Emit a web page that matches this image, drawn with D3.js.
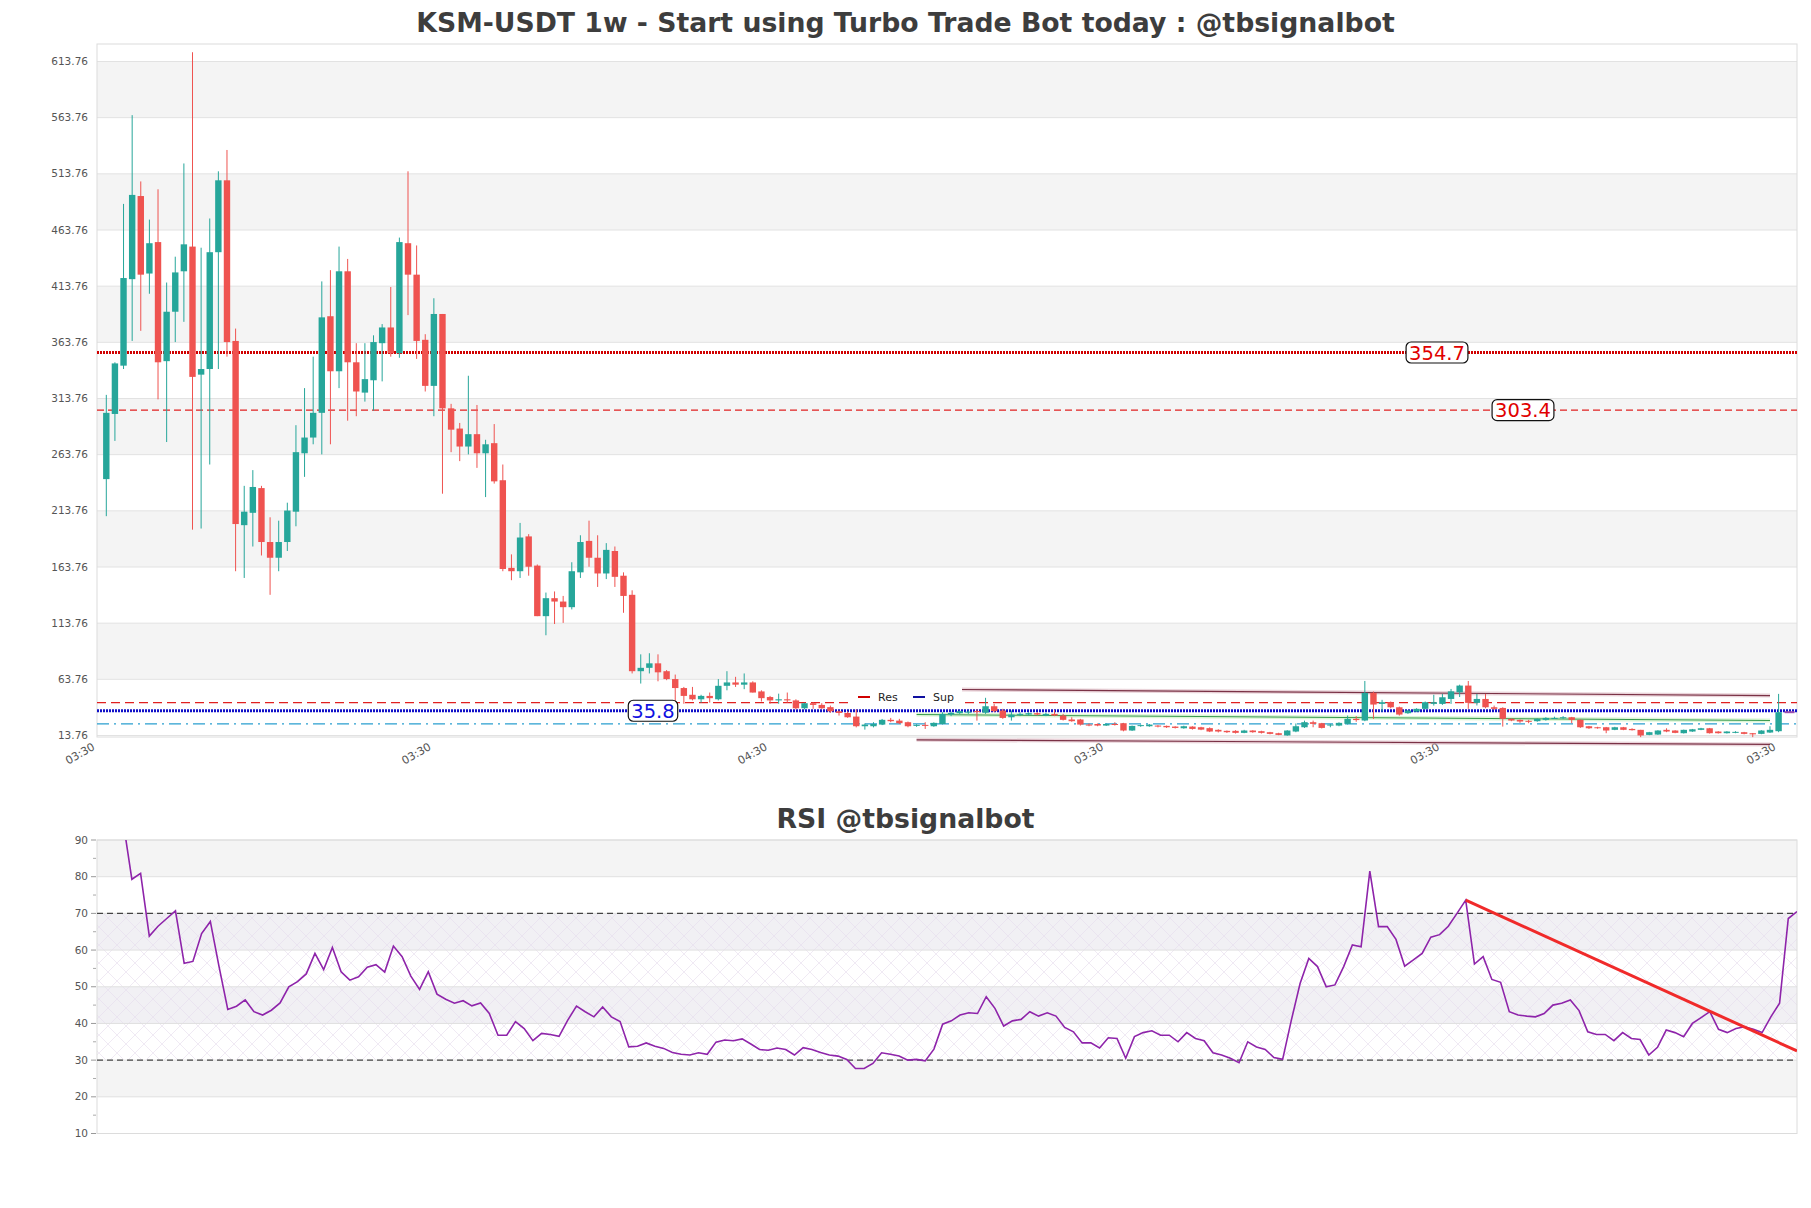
<!DOCTYPE html>
<html>
<head>
<meta charset="utf-8">
<script src="https://cdn.jsdelivr.net/npm/d3@7.9.0/dist/d3.min.js"></script>
<style>
  body { margin: 0; background: #fff; }
  svg text { font-family: "DejaVu Sans", sans-serif; }
</style>
</head>
<body>
<svg id="chart" width="1811" height="1208"></svg>
<script>
// weekly candles
const opens = [242,300,343,420,494,425,453,347,391,427,449,335,340,444,508,365,201,212,234,186,
  172,186,213,265,279,301,387,338,427,346,319,330,363,377,354,452,424,366,325,389,
  305,287,271,282,265,274,241,163,160,191,165,120,136,133,128,159,187,172,158,178,
  156,139,71,74,78,71,64,56,50,46,49,46,58,61,59,61,53,48,45,46,
  45,38,42.5,41,39,35.3,33.8,30.6,22,22,23.5,27.7,27,25.6,22.6,23.2,22,24,32.4,33.6,
  34.5,35.5,34,39.8,36,30,32.4,32.4,33.6,31.5,33,31.5,28,28,23.5,24,22.6,24,24.7,18.2,
  22.3,22,22.6,22.3,21.7,20.2,21.7,21.1,20.3,18.8,17.9,17.9,16.1,18.2,17.6,16.7,15.8,13.8,17.3,21.1,
  25.6,24.7,23,22.6,24.1,28.6,27.1,51.7,41.9,43.4,38.9,33.6,35.1,37.5,41.9,41.9,46.3,52.2,58.2,42.8,
  46.3,38.9,38.3,28.6,27.7,26.8,26.5,27.7,28.9,29.4,30,27.7,22,21.1,21.1,18.8,21.1,19.6,18.8,14.3,
  14.6,18.8,18.2,15.8,17.3,18.8,20.2,17.3,15.8,16.7,16.7,15.8,15.2,16.4,17.6];
const highs = [317,346,487,566,507,473,500,417,440,523,622,448,474,516,535,376,236,250,236,208,
  205,221,290,323,351,418,428,449,438,363,363,370,380,413,457,516,450,371,403,389,
  309,292,334,308,277,291,255,175,203,193,166,141,142,138,168,192,205,192,185,182,
  159,143,86,87,86,72,68,57,57,50,52,64,71,66,69,62,54,49,51,52,
  46,43,43.4,42.5,40.4,36,35.3,37,24.5,25.6,28.5,29.4,28.6,26.2,23.8,25.6,25.5,34.5,35,36,
  36,37,47.3,41.9,37.5,36,34.5,34.5,34.5,34,36.6,33,30,28.6,24.5,24.5,24.5,25.6,25,22.6,
  23.5,24,23,22.6,22,22.5,22,21.5,21,19.3,18.2,18.5,18.8,18.5,18,17,16.2,18.5,24.5,27,
  27,25,24.1,25.5,31.5,31,62.3,52.9,45.5,44,39.5,36.5,38,44,50,50.8,55.2,59,62.3,50.8,
  50.8,40.4,38.9,29,28,27.7,29,30,30.5,31,30.3,28,22.3,21.5,21.4,21.5,21.4,20.2,18.8,17,
  18.5,20.2,18.5,19,19.6,20.6,20.5,17.6,17.6,17.6,17,16,18.5,22,50.8];
const lows = [209,276,340,365,374,407,313,275,364,382,197,198,255,340,351,160,154,182,174,139,
  160,178,200,244,273,264,273,323,294,298,311,303,329,351,350,388,349,320,298,229,
  266,258,264,252,226,238,160,152,154,156,120,103,113,114,126,154,164,146,153,146,
  123,69,60,69,62,63,43,42,45,43,43,45,54,57,55,52,44,42,42,43,
  37,37,37.5,37.5,34,31.5,29.5,21,19,21,23,25.6,24,21.1,21.5,19.6,21.5,23.5,31,33,
  33,27,33,34.5,28.6,27,31,31.5,31.5,31,31,27.1,26,22.6,22,22,22.3,22.6,17.5,17.8,
  21.5,21.5,21,20.5,20,19.8,19,18.5,16.8,16.5,16,15.5,15.8,16.2,15.5,14.8,14,13.5,16.7,20.5,
  21.1,20,21.1,22,23.5,26,26.5,28.6,35,38,31.5,33,34.5,37,40.4,41,41.9,48,37.5,40.5,
  38,36.6,21.7,26.5,25,24.7,26,27,28.5,28.6,24.7,20.5,19.6,19.8,15.8,18.5,18.5,18.2,12.3,14,
  14.3,16.7,15.8,15.5,17,18.5,15.5,15.5,15.5,15.8,14.8,12.3,14.9,16,16.7];
const closes = [301,345,421,495,424,452,346,391,426,451,333,340,444,508,364,202,213,235,186,172,
  186,214,266,279,301,386,338,427,346,320,331,364,377,354,453,424,365,325,389,305,
  286,271,282,265,273,240,162,160,190,164,120,136,133,128,160,186,172,158,179,155,
  138,71,74,78,70,64,56,49,46,49,47,58,61,59,61,52,47,45,46,45,
  38,42.5,41,38,35.3,33.8,30,22,23.5,24,27.7,26.5,24.7,22,23.2,22.3,25,33,33.9,35.4,
  35,35,39.8,35.4,29.4,32.4,33,33.6,32.4,33,31.5,27.7,26.5,23.5,23.2,22.6,24,23.5,18.2,22.3,
  23,23.5,21.7,21.1,20.5,22,19.6,19,17.3,17.3,16.7,16.1,18.2,16.7,16.1,15.2,14.3,18.2,22,25.6,
  24.1,20.5,23.5,25,28.6,27.5,51.7,41.3,43.4,38.9,32.4,36,37.5,43.4,43.4,47.8,53.1,58.2,42.8,46.3,
  38.9,37.5,28.6,27.1,26.2,26.2,28.6,29.4,29.4,30,27.7,21.1,20.2,20.2,18.2,21.1,18.8,18.5,13.8,16.7,
  18.2,17.3,16.1,18.8,19.3,20.2,15.8,15.8,17.3,17,15.2,14.8,18.2,18.8,34.5];

const priceTicks = [13.76,63.76,113.76,163.76,213.76,263.76,313.76,363.76,413.76,463.76,513.76,563.76,613.76];
const timeTickIdx = [-1, 38, 77, 116, 155, 194];
const timeTickLabels = ["03:30","03:30","04:30","03:30","03:30","03:30"];

// horizontal levels
const resStrong = 354.7;
const resWeak = 303.4;
const resNear = 43.0;
const supLevel = 35.8;
const supLow = 24.1;

// trend lines: [index, price]
const greenLine = [[94, 32.4], [193, 27.1]];
const channelTop = [[99, 54.7], [193, 49.3]];
const channelBottom = [[94, 9.9], [193, 5.8]];

const rsiValues = [null,null,null,95,79.3,80.9,63.8,66.5,68.6,70.7,56.4,56.9,64.5,67.8,55.5,43.8,44.7,46.4,43.2,42.3,
  43.6,45.6,50,51.4,53.5,59.1,54.7,60.7,54.1,51.8,52.7,55.3,56,54,61.1,58.2,52.9,49.3,54.1,48,
  46.6,45.5,46.2,44.8,45.6,42.7,36.8,36.8,40.5,38.6,35.3,37.3,37,36.5,40.9,44.7,43.2,41.8,44.5,41.8,
  40.5,33.6,33.8,34.7,33.8,33.2,32.1,31.6,31.4,32,31.6,34.9,35.5,35.3,35.8,34.4,32.9,32.7,33.3,32.9,
  31.4,33.4,32.9,32.1,31.4,31.1,30.2,27.7,27.7,29.1,32,31.6,31.1,30,30.2,29.8,33,39.8,40.7,42.3,
  42.9,42.7,47.3,44.1,39.3,40.7,41.1,43.2,42,42.9,42,38.9,37.7,34.7,34.7,33.3,36.1,35.9,30.5,36.4,
  37.5,38,36.8,36.8,35,37.5,35.9,35.3,32,31.4,30.5,29.3,35,33.6,32.9,30.7,30.2,40.9,50.9,57.7,
  55.5,50,50.5,55.5,61.4,60.9,81.5,66.4,66.4,62.9,55.6,57.3,59.1,63.5,64.2,66.5,70,73.6,56.2,58.2,
  52,51.2,43.2,42.3,42,41.8,42.7,45,45.5,46.4,43.5,37.7,37,37,35.3,37.5,35.9,35.6,31.4,33.5,
  38.2,37.5,36.4,40,41.6,43.2,38.4,37.5,38.6,39.1,38.4,37.5,41.8,45.5,68.6,70.5];
const rsiTicks = [10,20,30,40,50,60,70,80,90];
const rsiTrend = [[157, 73.6], [195, 32.5]];

const svg = d3.select("#chart");
const W = 1811;
const main = { left: 97, right: 1797, top: 44, bottom: 737 };
const rsiBox = { left: 97, right: 1797, top: 840, bottom: 1133.5 };

const up = "#26a69a", down = "#ef5350";

const x = d3.scaleLinear().domain([0, opens.length - 1]).range([106.3, 1778.6]);
const y = d3.scaleLinear().domain([13.76, 613.76]).range([735.5, 61.5]);

// title
svg.append("text").attr("x", W / 2).attr("y", 32).attr("text-anchor", "middle")
  .attr("font-size", 26.7).attr("font-weight", "bold").attr("fill", "#3d3d3d")
  .text("KSM-USDT 1w - Start using Turbo Trade Bot today : @tbsignalbot");

// background bands
const gMain = svg.append("g");
gMain.append("rect").attr("x", main.left).attr("y", main.top)
  .attr("width", main.right - main.left).attr("height", main.bottom - main.top).attr("fill", "#fff");
d3.pairs(priceTicks).forEach(([a, b], k) => {
  if (k % 2 === 1) {
    gMain.append("rect").attr("x", main.left).attr("y", y(b))
      .attr("width", main.right - main.left).attr("height", y(a) - y(b)).attr("fill", "#f4f4f4");
  }
});
priceTicks.forEach(t => {
  gMain.append("line").attr("x1", main.left).attr("x2", main.right)
    .attr("y1", y(t)).attr("y2", y(t)).attr("stroke", "#e2e2e2").attr("stroke-width", 1);
  gMain.append("text").attr("x", 88).attr("y", y(t) + 3.5).attr("text-anchor", "end")
    .attr("font-size", 10.5).attr("fill", "#555").text(t.toFixed(2));
});
gMain.append("rect").attr("x", main.left).attr("y", main.top)
  .attr("width", main.right - main.left).attr("height", main.bottom - main.top)
  .attr("fill", "none").attr("stroke", "#dcdcdc");

// x ticks
timeTickIdx.forEach((t, i) => {
  gMain.append("text")
    .attr("transform", `translate(${x(t) - 2},${main.bottom + 12}) rotate(-30)`)
    .attr("text-anchor", "end").attr("font-size", 11).attr("fill", "#555")
    .text(timeTickLabels[i]);
});

// horizontal levels
function hline(v, color, width, dash) {
  gMain.append("line").attr("x1", main.left).attr("x2", main.right)
    .attr("y1", y(v)).attr("y2", y(v)).attr("stroke", color)
    .attr("stroke-width", width).attr("stroke-dasharray", dash);
}
hline(resStrong, "#d00000", 3, "2,1");
hline(resWeak, "#e02020", 1.4, "7,4");
hline(resNear, "#e02020", 1.3, "9,5");
hline(supLevel, "#1010c8", 3, "2,1");
hline(supLow, "#2a9fd0", 1.3, "12,5,2,5");

// trend lines
const lineGen = d3.line().x(d => x(d[0])).y(d => y(d[1]));
gMain.append("path").attr("d", lineGen(greenLine)).attr("stroke", "#c4f0bc")
  .attr("stroke-width", 4).attr("fill", "none").attr("opacity", 0.6);
gMain.append("path").attr("d", lineGen(greenLine)).attr("stroke", "#3a9a50")
  .attr("stroke-width", 1.1).attr("fill", "none");
[channelTop, channelBottom].forEach(seg => {
  gMain.append("path").attr("d", lineGen(seg)).attr("stroke", "#dcb8c2")
    .attr("stroke-width", 4).attr("fill", "none").attr("opacity", 0.6);
  gMain.append("path").attr("d", lineGen(seg)).attr("stroke", "#7a3246")
    .attr("stroke-width", 1.2).attr("fill", "none");
});

// candles
const bodyW = 6.4;
const candles = gMain.append("g");
opens.forEach((o, i) => {
  const c = closes[i];
  const col = c >= o ? up : down;
  candles.append("line").attr("x1", x(i)).attr("x2", x(i))
    .attr("y1", y(highs[i])).attr("y2", y(lows[i])).attr("stroke", col).attr("stroke-width", 1);
  const top = y(Math.max(o, c)), bot = y(Math.min(o, c));
  candles.append("rect").attr("x", x(i) - bodyW / 2).attr("y", top)
    .attr("width", bodyW).attr("height", Math.max(1, bot - top)).attr("fill", col);
});
// last price tick
gMain.append("line").attr("x1", x(opens.length - 1) + 6).attr("x2", x(opens.length - 1) + 16)
  .attr("y1", y(closes[closes.length - 1])).attr("y2", y(closes[closes.length - 1]))
  .attr("stroke", "#9a4fb0").attr("stroke-width", 2);

// legend
const lg = gMain.append("g");
lg.append("rect").attr("x", 852).attr("y", 686).attr("width", 110).attr("height", 20).attr("fill", "#fff");
lg.append("line").attr("x1", 858).attr("x2", 870).attr("y1", 697).attr("y2", 697)
  .attr("stroke", "#d00000").attr("stroke-width", 2);
lg.append("text").attr("x", 878).attr("y", 700.5).attr("font-size", 11).attr("fill", "#222").text("Res");
lg.append("line").attr("x1", 913).attr("x2", 925).attr("y1", 697).attr("y2", 697)
  .attr("stroke", "#1010a0").attr("stroke-width", 2);
lg.append("text").attr("x", 933).attr("y", 700.5).attr("font-size", 11).attr("fill", "#222").text("Sup");

// level labels
function levelLabel(v, cx, color) {
  const t = gMain.append("text").attr("x", cx).attr("y", y(v) + 7).attr("text-anchor", "middle")
    .attr("font-size", 19.5).attr("fill", color).text(v.toFixed(1));
  const bb = t.node().getBBox();
  gMain.insert("rect", () => t.node())
    .attr("x", bb.x - 3).attr("y", y(v) - 10.5).attr("width", bb.width + 6).attr("height", 21)
    .attr("rx", 5).attr("fill", "#fff").attr("stroke", "#111").attr("stroke-width", 1.2);
}
levelLabel(resStrong, 1437, "#e00000");
levelLabel(resWeak, 1523, "#e00000");
levelLabel(supLevel, 653, "#1010e0");

// ---------- RSI panel ----------
const xr = d3.scaleLinear().domain([0, rsiValues.length - 1]).range([rsiBox.left, rsiBox.right]);
const yr = d3.scaleLinear().domain([10, 90]).range([rsiBox.bottom, rsiBox.top]);

svg.append("text").attr("x", W / 2).attr("y", 828).attr("text-anchor", "middle")
  .attr("font-size", 26.7).attr("font-weight", "bold").attr("fill", "#3d3d3d").text("RSI @tbsignalbot");

const defs = svg.append("defs");
const pat = defs.append("pattern").attr("id", "hatch").attr("patternUnits", "userSpaceOnUse")
  .attr("width", 18).attr("height", 18);
pat.append("path").attr("d", "M0,0 L18,18 M18,0 L0,18").attr("stroke", "#e6dced").attr("stroke-width", 0.6);
defs.append("clipPath").attr("id", "rsiClip").append("rect")
  .attr("x", rsiBox.left).attr("y", rsiBox.top)
  .attr("width", rsiBox.right - rsiBox.left).attr("height", rsiBox.bottom - rsiBox.top);

const gR = svg.append("g");
d3.pairs(rsiTicks).forEach(([a, b], k) => {
  const hatched = a >= 30 && b <= 70;
  const fill = k % 2 === 1 ? (hatched ? "#f1f0f4" : "#f4f4f4") : "#fff";
  gR.append("rect").attr("x", rsiBox.left).attr("y", yr(b))
    .attr("width", rsiBox.right - rsiBox.left).attr("height", yr(a) - yr(b)).attr("fill", fill);
  if (hatched) {
    gR.append("rect").attr("x", rsiBox.left).attr("y", yr(b))
      .attr("width", rsiBox.right - rsiBox.left).attr("height", yr(a) - yr(b)).attr("fill", "url(#hatch)");
  }
});
rsiTicks.forEach(t => {
  gR.append("line").attr("x1", rsiBox.left).attr("x2", rsiBox.right)
    .attr("y1", yr(t)).attr("y2", yr(t)).attr("stroke", "#e0e0e0");
  gR.append("text").attr("x", 88).attr("y", yr(t) + 3.5).attr("text-anchor", "end")
    .attr("font-size", 10.5).attr("fill", "#555").text(t);
  gR.append("line").attr("x1", 91).attr("x2", 96).attr("y1", yr(t)).attr("y2", yr(t)).attr("stroke", "#999");
});
d3.pairs(rsiTicks).forEach(([a, b]) => {
  const m = (a + b) / 2;
  gR.append("line").attr("x1", 93).attr("x2", 96).attr("y1", yr(m)).attr("y2", yr(m)).attr("stroke", "#aaa");
});
gR.append("rect").attr("x", rsiBox.left).attr("y", rsiBox.top)
  .attr("width", rsiBox.right - rsiBox.left).attr("height", rsiBox.bottom - rsiBox.top)
  .attr("fill", "none").attr("stroke", "#dcdcdc");
[70, 30].forEach(v => {
  gR.append("line").attr("x1", rsiBox.left).attr("x2", rsiBox.right)
    .attr("y1", yr(v)).attr("y2", yr(v)).attr("stroke", "#444")
    .attr("stroke-width", 1.2).attr("stroke-dasharray", "6,4");
});

const rsiLine = d3.line().defined(d => d != null).x((d, i) => xr(i)).y(d => yr(d));
gR.append("path").attr("clip-path", "url(#rsiClip)").attr("d", rsiLine(rsiValues))
  .attr("fill", "none").attr("stroke", "#8e24aa").attr("stroke-width", 1.6);
gR.append("path").attr("clip-path", "url(#rsiClip)")
  .attr("d", d3.line().x(d => xr(d[0])).y(d => yr(d[1]))(rsiTrend))
  .attr("fill", "none").attr("stroke", "#f02a2a").attr("stroke-width", 3);
</script>
</body>
</html>
